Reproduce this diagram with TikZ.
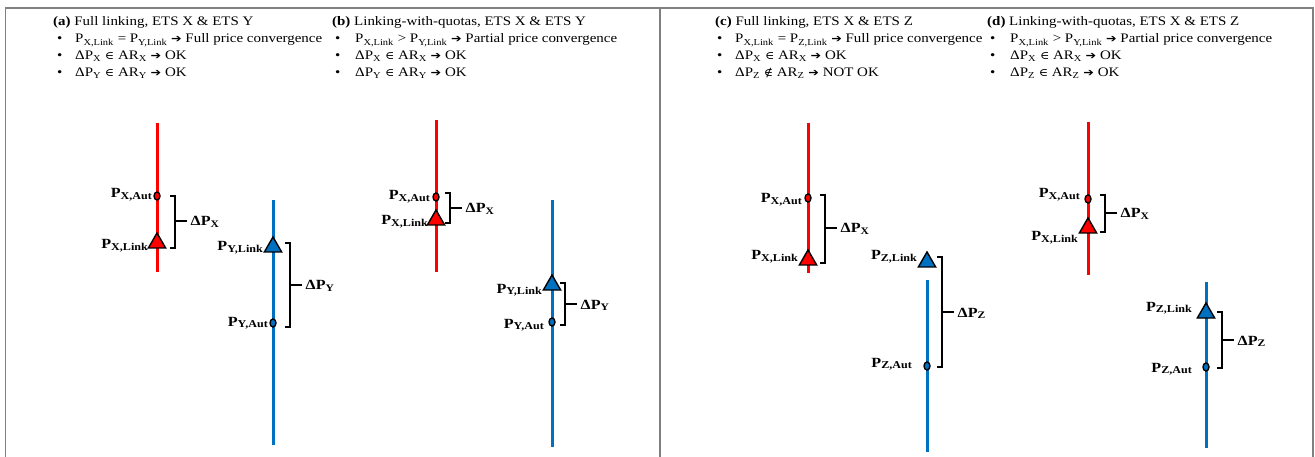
\documentclass[tikz,border=0pt]{standalone}
\usepackage{fontspec}
\usepackage{graphicx}
\setmainfont{Liberation Serif}
\newfontfamily\symbfont{DejaVu Sans}
\newfontfamily\relfont{DejaVu Serif}
\usetikzlibrary{shapes.geometric}

\definecolor{xred}{RGB}{255,0,0}
\definecolor{zblue}{RGB}{0,112,192}
\definecolor{framegray}{RGB}{128,128,128}

% horizontally widened text
\newcommand\sx[1]{\scalebox{1.15}[1]{#1}}
\newcommand\sbs[1]{\textsubscript{#1}}
\newcommand\arr{{\symbfont\fontsize{11}{11}\selectfont ➔}}
\newcommand\isin{{\relfont\fontsize{11}{11}\selectfont ∈}}
\newcommand\notisin{{\relfont\fontsize{11}{11}\selectfont ∉}}
% bold price labels
\newcommand\bP[1]{\sx{P\raisebox{-0.3ex}{\fontsize{10.5}{11}\selectfont #1}}}
\newcommand\dP[1]{\sx{ΔP\raisebox{-0.3ex}{\fontsize{10}{10}\selectfont #1}}}

% bracket between two prices with a tick and a Delta label
\newcommand\gap[6]{%
  \coordinate (#1t) at (#2,#3);
  \coordinate (#1b) at (#2,#4);
  \coordinate (#1m) at (#2,#5);
  \draw[brk] ([xshift=-5pt]#1t) -- (#1t) -- (#1b) -- ([xshift=-5pt]#1b);
  \draw[brk] (#1m) -- ++(12,0) coordinate (#1e);
  \node[dlab] (#1d) at ([xshift=3.5pt,yshift=-5pt]#1e) {\dP{#6}};
}

\begin{document}
\begin{tikzpicture}[x=1pt,y=-1pt,
  hdr/.style={anchor=base west, inner sep=0, font=\fontsize{13}{15}\selectfont},
  plab/.style={anchor=base east, inner sep=0, font=\fontsize{14}{15}\selectfont\bfseries},
  dlab/.style={anchor=base west, inner sep=0, font=\fontsize{14}{15}\selectfont\bfseries},
  axisX/.style={xred, line width=3pt},
  axisZ/.style={zblue, line width=3pt},
  autmark/.style={ellipse, draw=black, line width=1.4pt, minimum width=6pt, minimum height=8pt, inner sep=0},
  linkmark/.style={regular polygon, regular polygon sides=3, draw=black, line width=1.4pt, minimum size=20pt, inner sep=0},
  brk/.style={black, line width=2pt},
  framing/.style={framegray, line width=1.5pt}]
\useasboundingbox (0,0) rectangle (1315,457);

% panel frames
\coordinate (fl) at (5.5,457); \coordinate (ftl) at (5.5,8);
\coordinate (ftr) at (1313,8); \coordinate (fr) at (1313,457);
\coordinate (fmt) at (660,8); \coordinate (fmb) at (660,457);
\draw[framing] (fl) -- (ftl) -- (ftr) -- (fr);
\draw[framing] (fmt) -- (fmb);

% ---------- headings ----------
\node[hdr] (ah) at (53,26) {\sx{\textbf{(a)} Full linking, ETS X \& ETS Y}};
\node[hdr] (ab1) at (57,43) {\sx{•}};
\node[hdr] (at1) at (75,43) {\sx{P\sbs{X,Link} = P\sbs{Y,Link} \arr{} Full price convergence}};
\node[hdr] (ab2) at (57,60) {\sx{•}};
\node[hdr] (at2) at (75,60) {\sx{ΔP\sbs{X} \isin{} AR\sbs{X} \arr{} OK}};
\node[hdr] (ab3) at (57,77) {\sx{•}};
\node[hdr] (at3) at (75,77) {\sx{ΔP\sbs{Y} \isin{} AR\sbs{Y} \arr{} OK}};

\node[hdr] (bh) at (332,26) {\sx{\textbf{(b)} Linking-with-quotas, ETS X \& ETS Y}};
\node[hdr] (bb1) at (335,43) {\sx{•}};
\node[hdr] (bt1) at (355,43) {\sx{P\sbs{X,Link} > P\sbs{Y,Link} \arr{} Partial price convergence}};
\node[hdr] (bb2) at (335,60) {\sx{•}};
\node[hdr] (bt2) at (355,60) {\sx{ΔP\sbs{X} \isin{} AR\sbs{X} \arr{} OK}};
\node[hdr] (bb3) at (335,77) {\sx{•}};
\node[hdr] (bt3) at (355,77) {\sx{ΔP\sbs{Y} \isin{} AR\sbs{Y} \arr{} OK}};

\node[hdr] (ch) at (715,26) {\sx{\textbf{(c)} Full linking, ETS X \& ETS Z}};
\node[hdr] (cb1) at (717,43) {\sx{•}};
\node[hdr] (ct1) at (735,43) {\sx{P\sbs{X,Link} = P\sbs{Z,Link} \arr{} Full price convergence}};
\node[hdr] (cb2) at (717,60) {\sx{•}};
\node[hdr] (ct2) at (735,60) {\sx{ΔP\sbs{X} \isin{} AR\sbs{X} \arr{} OK}};
\node[hdr] (cb3) at (717,77) {\sx{•}};
\node[hdr] (ct3) at (735,77) {\sx{ΔP\sbs{Z} \notisin{} AR\sbs{Z} \arr{} NOT OK}};

\node[hdr] (dh) at (987,26) {\sx{\textbf{(d)} Linking-with-quotas, ETS X \& ETS Z}};
\node[hdr] (db1) at (990,43) {\sx{•}};
\node[hdr] (dt1) at (1010,43) {\sx{P\sbs{X,Link} > P\sbs{Y,Link} \arr{} Partial price convergence}};
\node[hdr] (db2) at (990,60) {\sx{•}};
\node[hdr] (dt2) at (1010,60) {\sx{ΔP\sbs{X} \isin{} AR\sbs{X} \arr{} OK}};
\node[hdr] (db3) at (990,77) {\sx{•}};
\node[hdr] (dt3) at (1010,77) {\sx{ΔP\sbs{Z} \isin{} AR\sbs{Z} \arr{} OK}};

% ---------- panel (a) ----------
\coordinate (aXt) at (157,123); \coordinate (aXb) at (157,272);
\draw[axisX] (aXt) -- (aXb);
\node[plab] at (152,198) {\bP{X,Aut}};
\node[plab] at (148,249) {\bP{X,Link}};
\node[autmark, fill=xred] (aXaut) at (157,196) {};
\node[linkmark, fill=xred] (aXlink) at (157,243) {};
\gap{aXg}{175}{196}{248}{221}{X}

\coordinate (aYt) at (273,200); \coordinate (aYb) at (273,445);
\draw[axisZ] (aYt) -- (aYb);
\node[plab] at (263,251) {\bP{Y,Link}};
\node[plab] at (268,326) {\bP{Y,Aut}};
\node[linkmark, fill=zblue] (aYlink) at (273,247) {};
\node[autmark, fill=zblue] (aYaut) at (273,323) {};
\gap{aYg}{290}{243}{327}{285}{Y}

% ---------- panel (b) ----------
\coordinate (bXt) at (436,120); \coordinate (bXb) at (436,272);
\draw[axisX] (bXt) -- (bXb);
\node[plab] at (430,200) {\bP{X,Aut}};
\node[plab] at (428,225) {\bP{X,Link}};
\node[autmark, fill=xred] (bXaut) at (436,197) {};
\node[linkmark, fill=xred] (bXlink) at (436,220) {};
\gap{bXg}{450}{193}{223}{208}{X}

\coordinate (bYt) at (552,200); \coordinate (bYb) at (552,447);
\draw[axisZ] (bYt) -- (bYb);
\node[plab] at (542,293) {\bP{Y,Link}};
\node[plab] at (544,328) {\bP{Y,Aut}};
\node[linkmark, fill=zblue] (bYlink) at (552,285) {};
\node[autmark, fill=zblue] (bYaut) at (552,322) {};
\gap{bYg}{565}{283}{325}{304}{Y}

% ---------- panel (c) ----------
\coordinate (cXt) at (808,123); \coordinate (cXb) at (808,273);
\draw[axisX] (cXt) -- (cXb);
\node[plab] at (802,203) {\bP{X,Aut}};
\node[plab] at (798,260) {\bP{X,Link}};
\node[autmark, fill=xred] (cXaut) at (808,198) {};
\node[linkmark, fill=xred] (cXlink) at (808,260) {};
\gap{cXg}{825}{195}{263}{228}{X}

\coordinate (cZt) at (927,280); \coordinate (cZb) at (927,452);
\draw[axisZ] (cZt) -- (cZb);
\node[plab] at (917,260) {\bP{Z,Link}};
\node[plab] at (912,367) {\bP{Z,Aut}};
\node[linkmark, fill=zblue] (cZlink) at (927,262) {};
\node[autmark, fill=zblue] (cZaut) at (927,366) {};
\gap{cZg}{942}{257}{367}{312}{Z}

% ---------- panel (d) ----------
\coordinate (dXt) at (1088,122); \coordinate (dXb) at (1088,275);
\draw[axisX] (dXt) -- (dXb);
\node[plab] at (1080,198) {\bP{X,Aut}};
\node[plab] at (1078,241) {\bP{X,Link}};
\node[autmark, fill=xred] (dXaut) at (1088,199) {};
\node[linkmark, fill=xred] (dXlink) at (1088,228) {};
\gap{dXg}{1105}{195}{232}{213}{X}

\coordinate (dZt) at (1206,282); \coordinate (dZb) at (1206,448);
\draw[axisZ] (dZt) -- (dZb);
\node[plab] at (1192,311) {\bP{Z,Link}};
\node[plab] at (1192,372) {\bP{Z,Aut}};
\node[linkmark, fill=zblue] (dZlink) at (1206,313) {};
\node[autmark, fill=zblue] (dZaut) at (1206,367) {};
\gap{dZg}{1222}{312}{368}{340}{Z}
\end{tikzpicture}
\end{document}
